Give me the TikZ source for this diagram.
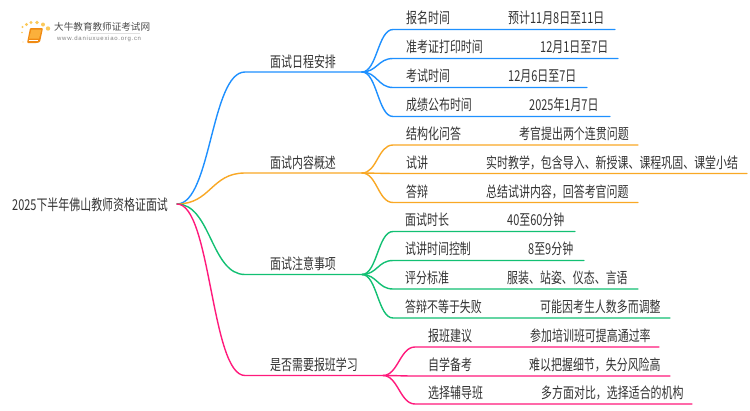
\documentclass[tikz,border=0pt]{standalone}
\usepackage{fontspec}
\setmainfont[FakeStretch=0.73]{Noto Sans CJK SC}
\newfontfamily\logofont{Noto Sans CJK SC}
\newfontfamily\urlfont[LetterSpace=12]{Liberation Sans}
\definecolor{cblue}{HTML}{1E90FF}
\definecolor{corange}{HTML}{F9A825}
\definecolor{cgreen}{HTML}{12C073}
\definecolor{cpink}{HTML}{FF1A7C}
\definecolor{ctext}{HTML}{333333}
\definecolor{cdot}{HTML}{FBC95A}
\definecolor{cbook}{HTML}{F08A12}
\definecolor{cpage}{HTML}{FBB03B}
\tikzset{
  lab/.style={anchor=west,inner sep=0pt,text=ctext,font=\fontsize{15}{15}\selectfont},
  wire/.style={line width=1.4pt,line cap=round},
  big/.style={out=0,in=180,out distance=34pt,in distance=34pt},
  small/.style={out=0,in=180,out distance=15pt,in distance=15pt}
}
\begin{document}
\begin{tikzpicture}[x=1pt,y=-1pt]
\useasboundingbox (0,0) rectangle (750,410);
% logo
\fill[white] (0,0) rectangle (750,410);
\foreach \px/\py/\r in {22/32.5/.9,22.5/27/1.2,26.5/24.5/1.6,31/22.5/1.7,37/22.5/1.9,43/24.5/2,48/28.5/2.2}
  \fill[cdot] (\px,\py) circle (\r);
\fill[cdot,opacity=.35] (23,42) circle (.8);
\fill[cbook,rounded corners=1pt] (30,28) -- (43,28) -- (40,42) -- (37,43) -- (27,43) -- cycle;
\fill[cpage] (31.5,29.5) -- (41.5,29.5) -- (39,38.5) -- (29,38.5) -- cycle;
\draw[white,line width=.5pt] (28.5,40.5) -- (38,40.5);
\node[inner sep=0pt,anchor=west,text=black!70,font=\logofont\fontsize{9.6}{10}\selectfont] (logotext) at (54,27) {大牛教育教师证考试网};
\node[inner sep=0pt,anchor=west,text=black!50,font=\urlfont\fontsize{6}{6}\selectfont] (logourl) at (57,39) {www.daniuxuexiao.org.cn};
\draw[black!12,line width=.6pt] (90,33.5) -- (140,33.5);
% root
\node[lab] (root) at (12,204.5) {2025下半年佛山教师资格证面试};
\coordinate (r) at (177,204);
% branch ends
\coordinate (a0) at (245,72);  \coordinate (a1) at (362,72);
\coordinate (b0) at (245,173); \coordinate (b1) at (362,173);
\coordinate (c0) at (245,274.5); \coordinate (c1) at (362,274.5);
\coordinate (d0) at (245,375.5); \coordinate (d1) at (383,375.5);
\node[lab] (a) at (270,62) {面试日程安排};
\node[lab] (b) at (270,163) {面试内容概述};
\node[lab] (c) at (270,263.5) {面试注意事项};
\node[lab] (d) at (270,364.5) {是否需要报班学习};
\draw[wire,cblue] (r) to[big] (a0) -- (a1);
\draw[wire,corange] (r) to[big] (b0) -- (b1);
\draw[wire,cgreen] (r) to[big] (c0) -- (c1);
\draw[wire,cpink] (r) to[big] (d0) -- (d1);
% blue leaves
\coordinate (a1s) at (393,29.5); \coordinate (a1e) at (615,29.5);
\coordinate (a2s) at (393,58.5); \coordinate (a2e) at (618,58.5);
\coordinate (a3s) at (393,87.5); \coordinate (a3e) at (587,87.5);
\coordinate (a4s) at (393,116.5); \coordinate (a4e) at (610,116.5);
\foreach \n in {1,2,3,4}
  \draw[wire,cblue] (a1) to[small] (a\n s) -- (a\n e);
\node[lab] (a1k) at (406,18) {报名时间};
\node[lab] (a1v) at (508,18) {预计11月8日至11日};
\node[lab] (a2k) at (406,47) {准考证打印时间};
\node[lab] (a2v) at (540,47) {12月1日至7日};
\node[lab] (a3k) at (406,76) {考试时间};
\node[lab] (a3v) at (508,76) {12月6日至7日};
\node[lab] (a4k) at (406,105) {成绩公布时间};
\node[lab] (a4v) at (529,105) {2025年1月7日};
% orange leaves
\coordinate (b1s) at (393,145); \coordinate (b1e) at (638,145);
\coordinate (b2s) at (393,173.5); \coordinate (b2e) at (747,173.5);
\coordinate (b3s) at (393,202.5); \coordinate (b3e) at (638,202.5);
\foreach \n in {1,2,3}
  \draw[wire,corange] (b1) to[small] (b\n s) -- (b\n e);
\node[lab] (b1k) at (406,134) {结构化问答};
\node[lab] (b1v) at (519,134) {考官提出两个连贯问题};
\node[lab] (b2k) at (406,163) {试讲};
\node[lab] (b2v) at (486,163) {实时教学，包含导入、新授课、课程巩固、课堂小结};
\node[lab] (b3k) at (406,192) {答辩};
\node[lab] (b3v) at (486,192) {总结试讲内容，回答考官问题};
% green leaves
\coordinate (c1s) at (393,231.5); \coordinate (c1e) at (575,231.5);
\coordinate (c2s) at (393,260.5); \coordinate (c2e) at (584,260.5);
\coordinate (c3s) at (393,289); \coordinate (c3e) at (638,289);
\coordinate (c4s) at (393,318); \coordinate (c4e) at (670,318);
\foreach \n in {1,2,3,4}
  \draw[wire,cgreen] (c1) to[small] (c\n s) -- (c\n e);
\node[lab] (c1k) at (405,220) {面试时长};
\node[lab] (c1v) at (507,220) {40至60分钟};
\node[lab] (c2k) at (405,249) {试讲时间控制};
\node[lab] (c2v) at (528,249) {8至9分钟};
\node[lab] (c3k) at (405,278) {评分标准};
\node[lab] (c3v) at (507,278) {服装、站姿、仪态、言语};
\node[lab] (c4k) at (405,307) {答辩不等于失败};
\node[lab] (c4v) at (540,307) {可能因考生人数多而调整};
% pink leaves
\coordinate (d1s) at (415,347); \coordinate (d1e) at (659,347);
\coordinate (d2s) at (415,376); \coordinate (d2e) at (670,376);
\coordinate (d3s) at (415,404); \coordinate (d3e) at (692,404);
\foreach \n in {1,2,3}
  \draw[wire,cpink] (d1) to[small] (d\n s) -- (d\n e);
\node[lab] (d1k) at (428,335.5) {报班建议};
\node[lab] (d1v) at (530,335.5) {参加培训班可提高通过率};
\node[lab] (d2k) at (428,364.5) {自学备考};
\node[lab] (d2v) at (529,364.5) {难以把握细节，失分风险高};
\node[lab] (d3k) at (428,393) {选择辅导班};
\node[lab] (d3v) at (541,393) {多方面对比，选择适合的机构};
\end{tikzpicture}
\end{document}
